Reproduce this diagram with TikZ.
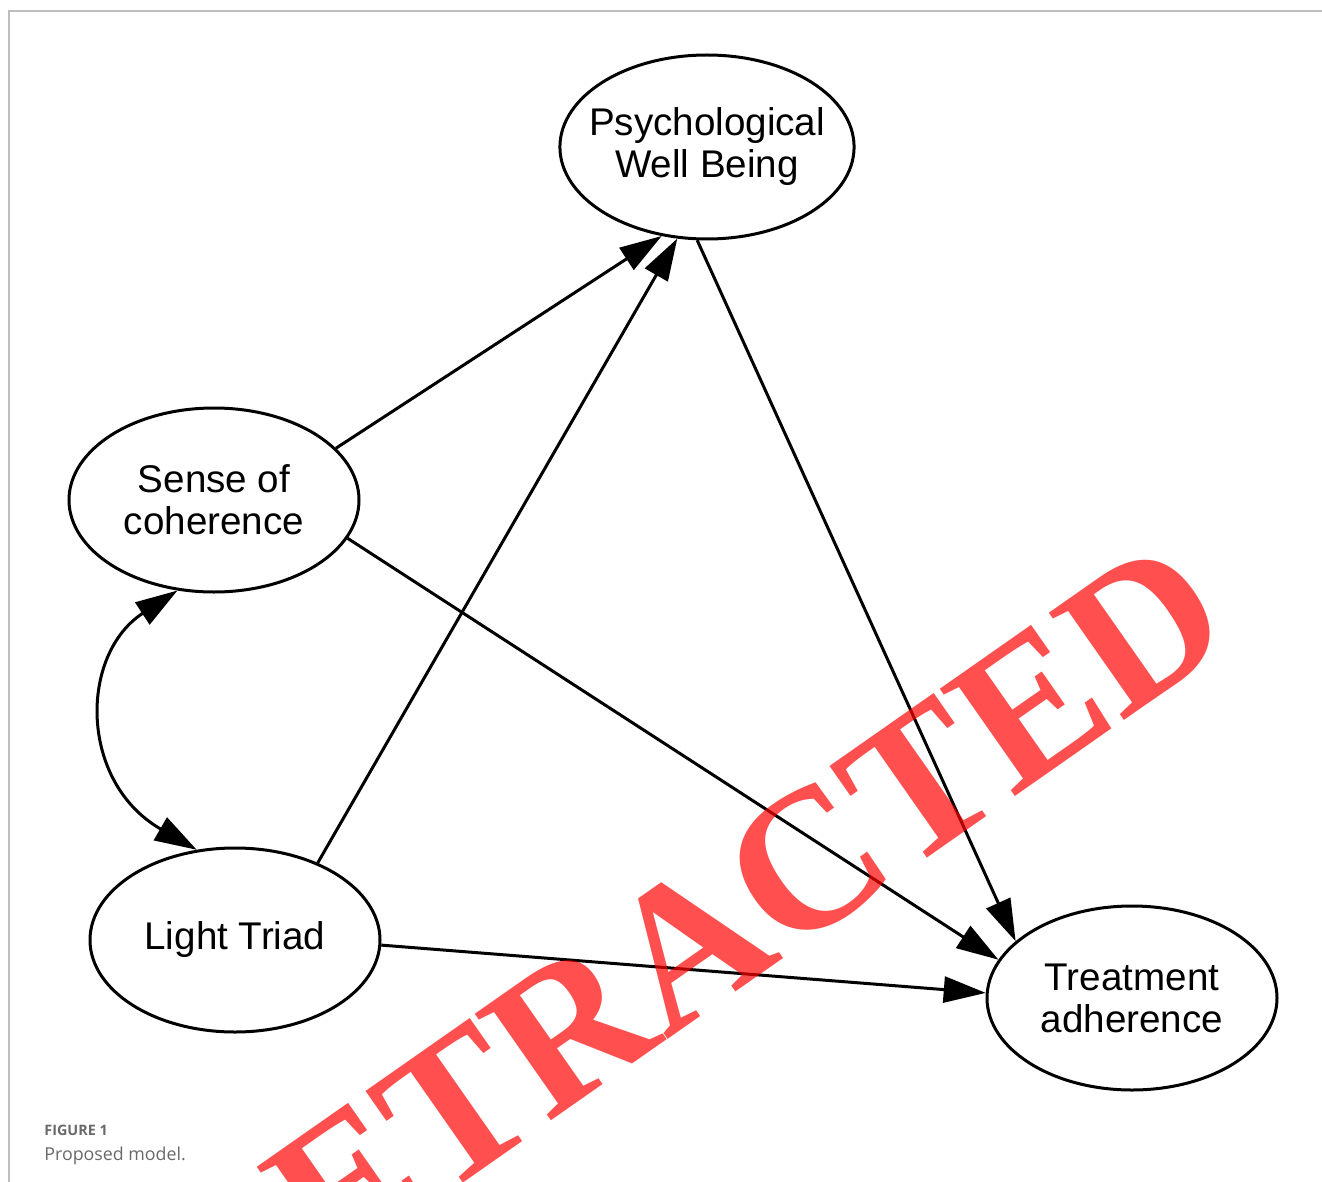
\documentclass[tikz,border=0pt]{standalone}
\usepackage{fontspec}
\usetikzlibrary{arrows.meta,shapes.geometric}
\newfontfamily\nodefont{Liberation Sans}
\newfontfamily\capfont{Open Sans}
\newfontfamily\stampfont{Liberation Serif}
\definecolor{framegray}{RGB}{190,190,190}
\definecolor{capgray}{RGB}{105,105,105}

\begin{document}
\begin{tikzpicture}[x=0.5pt, y=-0.5pt,
    latent/.style={draw, ellipse, line width=1.5pt, minimum width=145pt, minimum height=92pt,
        inner xsep=-7pt, inner ysep=0pt, align=center, font=\nodefont\fontsize{19.3}{21}\selectfont},
    effect/.style={line width=1.5pt, -{Triangle[length=21pt,width=13pt]}},
    covary/.style={line width=1.5pt, {Triangle[length=21pt,width=13pt]}-{Triangle[length=21pt,width=13pt]}}]
    \useasboundingbox (0,0) rectangle (1322,1182);
    \clip (0,0) rectangle (1322,1182);
    \draw[framegray, line width=1pt] (9,1182) -- (9,11) -- (1322,11);

    \node[latent] (pwb) at (707,147) {Psychological\\Well Being};
    \node[latent] (soc) at (214,500) {Sense of\\coherence};
    \node[latent] (lt) at (235,940) {Light Triad};
    \node[latent] (ta) at (1132,998) {Treatment\\adherence};

    \draw[effect] (soc.23) -- (pwb.243);
    \draw[effect] (lt.43) -- (pwb.252);
    \draw[effect] (pwb.264) -- (ta.154);
    \draw[effect] (soc.-16) -- (ta.164);
    \draw[effect] (lt.-2) -- (ta.178);
    \draw[covary] (soc.248) .. controls (79,655) and (79,782) .. (lt.113);

    \node[anchor=base west, inner sep=0pt, text=capgray, font=\capfont\bfseries\fontsize{7.2}{10}\selectfont] (fig) at (44,1135) {FIGURE 1};
    \node[anchor=base west, inner sep=0pt, text=capgray, font=\capfont\fontsize{8.9}{10}\selectfont] (cap) at (44,1160) {Proposed model.};

    \node[rotate=35, inner sep=0pt, text=red, text opacity=0.69, font=\stampfont\bfseries\fontsize{100}{100}\selectfont] (stamp) at (688,946) {RETRACTED};
\end{tikzpicture}
\end{document}
